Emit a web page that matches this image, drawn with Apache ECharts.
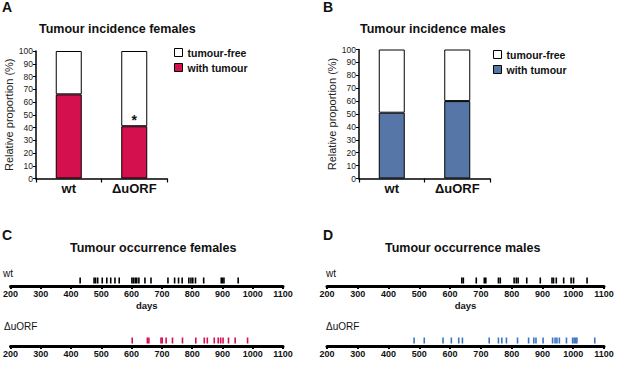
<!DOCTYPE html>
<html>
<head>
<meta charset="utf-8">
<script src="https://cdn.jsdelivr.net/npm/echarts@6/dist/echarts.min.js"></script>
<style>
  html, body { margin: 0; padding: 0; background: #fff; }
  #chart { width: 617px; height: 374px; }
</style>
</head>
<body>
<div id="chart"></div>
<script>
// ---- data ----
const categories = ['wt', 'ΔuORF'];
const femWithTumour = [66, 41];
const femTumourFree = [34, 59];
const femSignif = ['', '*'];
const maleWithTumour = [51, 60];
const maleTumourFree = [49, 40];

const femWtDays = [430, 476, 481, 488, 503, 518, 531, 545, 559, 601, 606, 612, 617, 624, 644, 664,
  720, 742, 755, 767, 789, 796, 802, 811, 838, 896, 900, 905, 952];
const femDuorfDays = [602, 652, 657, 697, 701, 714, 735, 768, 812, 840, 850, 873, 886, 894, 902, 920, 942, 983];
const maleWtDays = [638, 643, 685, 711, 716, 757, 763, 808, 815, 821, 849, 893, 931, 936, 945, 969, 993, 1001, 1045];
const maleDuorfDays = [483, 516, 577, 604, 628, 640, 727, 757, 768, 783, 819, 855, 872, 879, 902, 933, 941, 947,
  955, 978, 998, 1003, 1008, 1012, 1070];

const dayMin = 200, dayMax = 1100, dayStep = 100;

// ---- styles ----
const RED = '#d5104f';
const BLUE_BAR = '#5676a8';
const BLUE_TICK = '#3b76c0';
const SANS = 'Liberation Sans, Arial, sans-serif';
const NARROW = 'Liberation Sans Narrow, Liberation Sans, Arial, sans-serif';

const chart = echarts.init(document.getElementById('chart'), null, { renderer: 'svg' });

function barYAxis(gridIndex) {
  return {
    type: 'value', gridIndex, min: 0, max: 100, interval: 10,
    name: 'Relative proportion (%)', nameLocation: 'middle', nameRotate: 90, nameGap: 21,
    nameTextStyle: { fontFamily: SANS, fontSize: 11, color: '#222' },
    axisLine: { show: true, lineStyle: { color: '#000', width: 1.5 } },
    axisTick: { show: true, length: 3, lineStyle: { color: '#000', width: 1 } },
    axisLabel: { fontFamily: NARROW, fontSize: 8.5, color: '#222', margin: 3 },
    splitLine: { show: false }
  };
}
function barXAxis(gridIndex) {
  return {
    type: 'category', gridIndex, data: categories,
    axisLine: { show: true, lineStyle: { color: '#000', width: 1.5 } },
    axisTick: { show: true, length: 4, lineStyle: { color: '#000', width: 1.2 } },
    axisLabel: { fontFamily: SANS, fontSize: 13, fontWeight: 'bold', color: '#111', margin: 3 }
  };
}
function dayXAxis(gridIndex, withName) {
  return {
    type: 'value', gridIndex, min: dayMin, max: dayMax, interval: dayStep,
    name: withName ? 'days' : '', nameLocation: 'middle', nameGap: 14,
    nameTextStyle: { fontFamily: SANS, fontSize: 9.5, fontWeight: 'bold', color: '#111' },
    axisLine: { show: true, lineStyle: { color: '#000', width: 3 } },
    axisTick: { show: true, length: 3, lineStyle: { color: '#000', width: 2 } },
    axisLabel: {
      fontFamily: NARROW, fontSize: 9, fontWeight: 'bold', color: '#111', margin: 3,
      formatter: v => String(v)
    },
    splitLine: { show: false }
  };
}
function dayYAxis(gridIndex) {
  return { type: 'value', gridIndex, min: 0, max: 2, show: false };
}
function occurrence(name, days, gi, color) {
  return {
    name, type: 'scatter', xAxisIndex: gi, yAxisIndex: gi,
    symbol: 'rect', symbolSize: [1.6, 6],
    itemStyle: { color, opacity: 1 },
    data: days.map(d => [d, 1]),
    silent: true
  };
}
const barBorder = { borderColor: '#000', borderWidth: 1 };
function txt(text, left, top, size, weight) {
  return {
    text, left, top, padding: 0,
    textStyle: { fontFamily: SANS, fontSize: size, fontWeight: weight, color: '#111' }
  };
}

const option = {
  backgroundColor: '#fff',
  animation: false,
  title: [
    txt('A', 2, 0, 14, 'bold'),
    txt('B', 323, 0, 14, 'bold'),
    txt('C', 2, 228, 14, 'bold'),
    txt('D', 323, 228, 14, 'bold'),
    txt('Tumour incidence females', 39, 22, 12.5, 'bold'),
    txt('Tumour incidence males', 360, 22, 12.5, 'bold'),
    txt('Tumour occurrence females', 70, 241, 12.5, 'bold'),
    txt('Tumour occurrence males', 385, 241, 12.5, 'bold'),
    txt('wt', 3, 268, 10, 'normal'),
    txt('ΔuORF', 4, 321, 10, 'normal'),
    txt('wt', 326, 268, 10, 'normal'),
    txt('ΔuORF', 326, 321, 10, 'normal')
  ],
  legend: [
    {
      orient: 'vertical', left: 174, top: 47, itemWidth: 8, itemHeight: 8, itemGap: 4, padding: 0,
      icon: 'rect',
      textStyle: { fontFamily: SANS, fontSize: 10.5, fontWeight: 'bold', color: '#111' },
      data: [
        { name: 'tumour-free', itemStyle: { color: '#fff', borderColor: '#000', borderWidth: 1 } },
        { name: 'with tumour', itemStyle: { color: RED, borderColor: '#000', borderWidth: 1 } }
      ],
      selectedMode: false
    },
    {
      orient: 'vertical', left: 493, top: 49, itemWidth: 8, itemHeight: 8, itemGap: 4, padding: 0,
      icon: 'rect',
      textStyle: { fontFamily: SANS, fontSize: 10.5, fontWeight: 'bold', color: '#111' },
      data: [
        { name: 'tumour-free', itemStyle: { color: '#fff', borderColor: '#000', borderWidth: 1 } },
        { name: 'with tumour', itemStyle: { color: BLUE_BAR, borderColor: '#000', borderWidth: 1 } }
      ],
      selectedMode: false
    }
  ],
  grid: [
    { left: 36, top: 51, width: 131, height: 127.5 },
    { left: 359, top: 49.5, width: 131, height: 129 },
    { left: 4, top: 275, width: 279, height: 11 },
    { left: 4, top: 335, width: 279, height: 11 },
    { left: 327, top: 275, width: 277, height: 11 },
    { left: 327, top: 335, width: 277, height: 11 }
  ],
  xAxis: [
    barXAxis(0), barXAxis(1),
    dayXAxis(2, true), dayXAxis(3, false), dayXAxis(4, true), dayXAxis(5, false)
  ],
  yAxis: [
    barYAxis(0), barYAxis(1),
    dayYAxis(2), dayYAxis(3), dayYAxis(4), dayYAxis(5)
  ],
  series: [
    {
      name: 'with tumour', type: 'bar', stack: 'f', xAxisIndex: 0, yAxisIndex: 0, barWidth: 26,
      itemStyle: Object.assign({ color: RED }, barBorder),
      data: femWithTumour.map((v, i) => ({
        value: v,
        label: {
          show: femSignif[i] !== '', position: 'top', distance: -1, formatter: femSignif[i],
          fontFamily: SANS, fontSize: 14, fontWeight: 'bold', color: '#111'
        }
      }))
    },
    {
      name: 'tumour-free', type: 'bar', stack: 'f', xAxisIndex: 0, yAxisIndex: 0, barWidth: 26,
      itemStyle: Object.assign({ color: '#fff' }, barBorder),
      data: femTumourFree
    },
    {
      name: 'with tumour', type: 'bar', stack: 'm', xAxisIndex: 1, yAxisIndex: 1, barWidth: 26,
      itemStyle: Object.assign({ color: BLUE_BAR }, barBorder),
      data: maleWithTumour
    },
    {
      name: 'tumour-free', type: 'bar', stack: 'm', xAxisIndex: 1, yAxisIndex: 1, barWidth: 26,
      itemStyle: Object.assign({ color: '#fff' }, barBorder),
      data: maleTumourFree
    },
    occurrence('females wt', femWtDays, 2, '#000'),
    occurrence('females ΔuORF', femDuorfDays, 3, RED),
    occurrence('males wt', maleWtDays, 4, '#000'),
    occurrence('males ΔuORF', maleDuorfDays, 5, BLUE_TICK)
  ]
};
chart.setOption(option);
</script>
</body>
</html>
